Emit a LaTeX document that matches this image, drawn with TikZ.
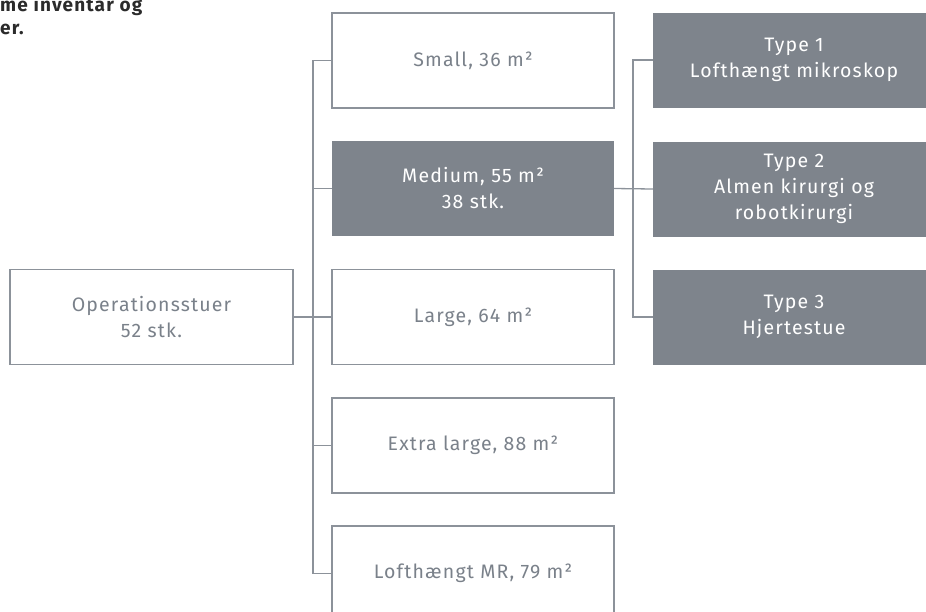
\documentclass[tikz,border=0pt]{standalone}
\usepackage{fontspec}
\setmainfont{Fira Sans}[LetterSpace=6]
\definecolor{boxline}{HTML}{8C929A}
\definecolor{darkfill}{HTML}{7E848C}
\definecolor{txtgray}{HTML}{7A818A}
\definecolor{headtxt}{HTML}{2B2B2B}
\begin{document}
\begin{tikzpicture}[x=1pt,y=-1pt,
  lightbox/.style={draw=boxline, line width=1.3pt, fill=white, text=txtgray,
    minimum width=282pt, minimum height=95pt, align=center, inner sep=0pt,
    font=\fontsize{19.5}{26}\selectfont},
  darkbox/.style={draw=none, fill=darkfill, text=white,
    minimum width=282pt, minimum height=95pt, align=center, inner sep=0pt,
    font=\fontsize{19.5}{26}\selectfont},
  conn/.style={draw=boxline, line width=1.3pt},
  headtext/.style={anchor=base west, inner sep=0pt, text=headtxt,
    font=\fontsize{19}{20}\selectfont\bfseries}]
\useasboundingbox (0,0) rectangle (926,611);
\clip (0,0) rectangle (926,611);
\node[headtext] (h1) at (0,11) {me inventar og};
\node[headtext] (h2) at (0,34) {er.};
% left
\node[lightbox, minimum width=283pt] (op) at (151.5,317) {Operationsstuer\\52 stk.};
% middle column
\node[lightbox] (small) at (473,60.5) {Small, 36 m²};
\node[darkbox] (med) at (473,188.5) {Medium, 55 m²\\38 stk.};
\node[lightbox] (large) at (473,317) {Large, 64 m²};
\node[lightbox] (xl) at (473,445.5) {Extra large, 88 m²};
\node[lightbox] (mr) at (473,573.5) {Lofthængt MR, 79 m²};
% right column
\node[darkbox] (t1) at (794,60) {Type 1\\Lofthængt mikroskop};
\node[darkbox] (t2) at (794,189) {Type 2\\Almen kirurgi og\\robotkirurgi};
\node[darkbox] (t3) at (794,317) {Type 3\\Hjertestue};
% connectors
\coordinate (bus) at (313,317);
\coordinate (rbus) at (633,189);
\draw[conn] (small.west) -| (bus) |- (mr.west);
\draw[conn] (op.east) -- (large.west);
\draw[conn] (med.west) -- (med.west -| bus);
\draw[conn] (xl.west) -- (xl.west -| bus);
\draw[conn] (t1.west) -| (rbus) |- (t3.west);
\draw[conn] (med.east) -- (t2.west);
\end{tikzpicture}
\end{document}
